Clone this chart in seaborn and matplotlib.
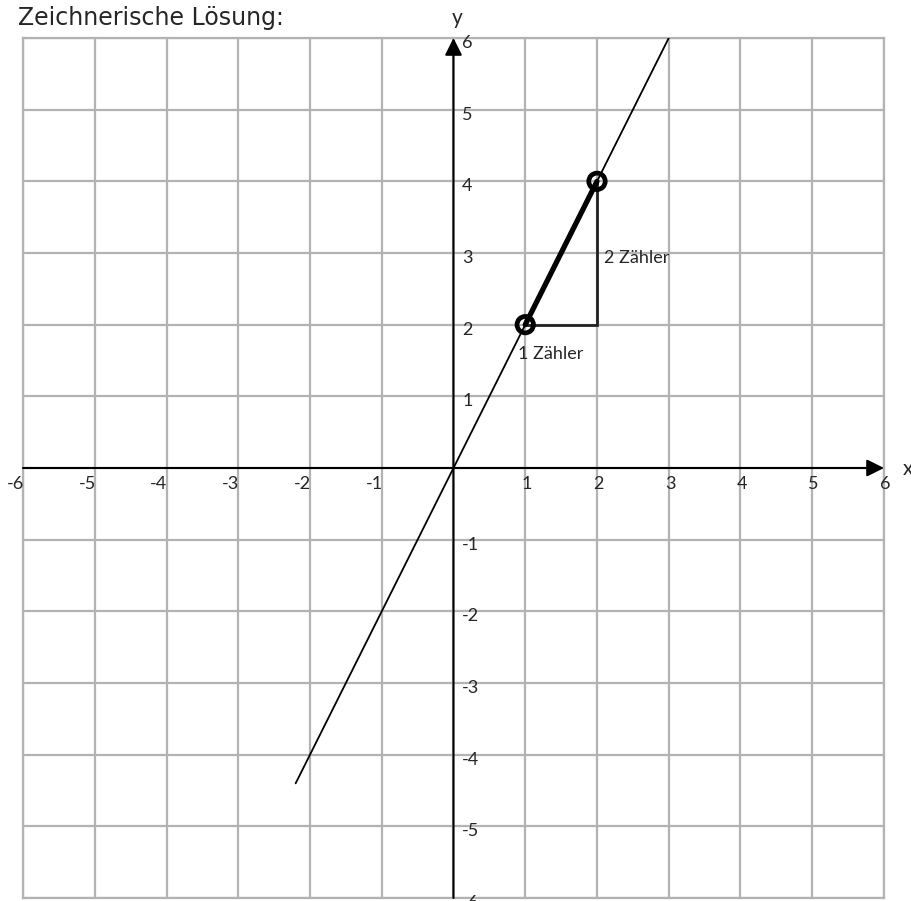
import numpy as np
import pandas as pd
import matplotlib.pyplot as plt
import seaborn as sns

# grid / axis range
ticks = [-6, -5, -4, -3, -2, -1, 1, 2, 3, 4, 5, 6]
grid_lines = list(range(-6, 7))

# line y = 2x (ends as drawn)
line_x = [-2.2, 3.0]
line_y = [-4.4, 6.0]

# slope triangle
pts_x = [1, 2]
pts_y = [2, 4]
tri_x = [1, 2, 2]
tri_y = [2, 2, 4]

sns.set_theme(style="white")
plt.rcParams['font.family'] = ['Lato', 'DejaVu Sans']

fig = plt.figure(figsize=(9.12, 9.01), dpi=100)
ax = fig.add_axes([23/912, 3/901, 861/912, 860/901])
ax.set_xlim(-6, 6)
ax.set_ylim(-6, 6)
ax.set_xticks([])
ax.set_yticks([])
for s in ax.spines.values():
    s.set_color('#b3b3b3')
    s.set_linewidth(1.6)

grid_col = '#b3b3b3'
ax.vlines(grid_lines, -6, 6, color=grid_col, lw=1.6, zorder=1)
ax.hlines(grid_lines, -6, 6, color=grid_col, lw=1.6, zorder=1)

# axes with arrows
arrow = dict(arrowstyle='-|>', lw=1.5, color='black', mutation_scale=26,
             shrinkA=0, shrinkB=0)
ax.annotate("", xy=(6, 0), xytext=(-6, 0), arrowprops=arrow, zorder=3)
ax.annotate("", xy=(0, 6), xytext=(0, -6), arrowprops=arrow, zorder=3)

# the function line
sns.lineplot(x=line_x, y=line_y, color='black', lw=1.3, ax=ax, zorder=4)

# slope triangle
ax.plot(tri_x, tri_y, color='#222222', lw=2.0, zorder=4, solid_joinstyle='miter')
sns.lineplot(x=pts_x, y=pts_y, color='black', lw=3.8, ax=ax, zorder=5)
sns.scatterplot(x=pts_x, y=pts_y, s=140, facecolor='none', edgecolor='black',
                linewidth=3.4, ax=ax, zorder=6)

# tick labels
for t in ticks:
    if t < 0:
        ax.text(t + 0.015, -0.22, str(t), ha='right', va='center', fontsize=13, clip_on=False)
    else:
        ax.text(t + 0.02, -0.22, str(t), ha='center', va='center', fontsize=13, clip_on=False)
    ax.text(0.12, t - 0.07, str(t), ha='left', va='center', fontsize=13, clip_on=False)

ax.text(0.05, 6.28, "y", ha='center', va='center', fontsize=15, clip_on=False)
ax.text(6.33, -0.02, "x", ha='center', va='center', fontsize=15, clip_on=False)

ax.text(2.1, 2.93, "2 Zähler", ha='left', va='center', fontsize=13)
ax.text(0.9, 1.59, "1 Zähler", ha='left', va='center', fontsize=13)

fig.text(18/912, 1 - 18/901, "Zeichnerische Lösung:", ha='left', va='center',
         fontsize=17, family=['DejaVu Sans'])

fig.savefig("out.png", dpi=100)
